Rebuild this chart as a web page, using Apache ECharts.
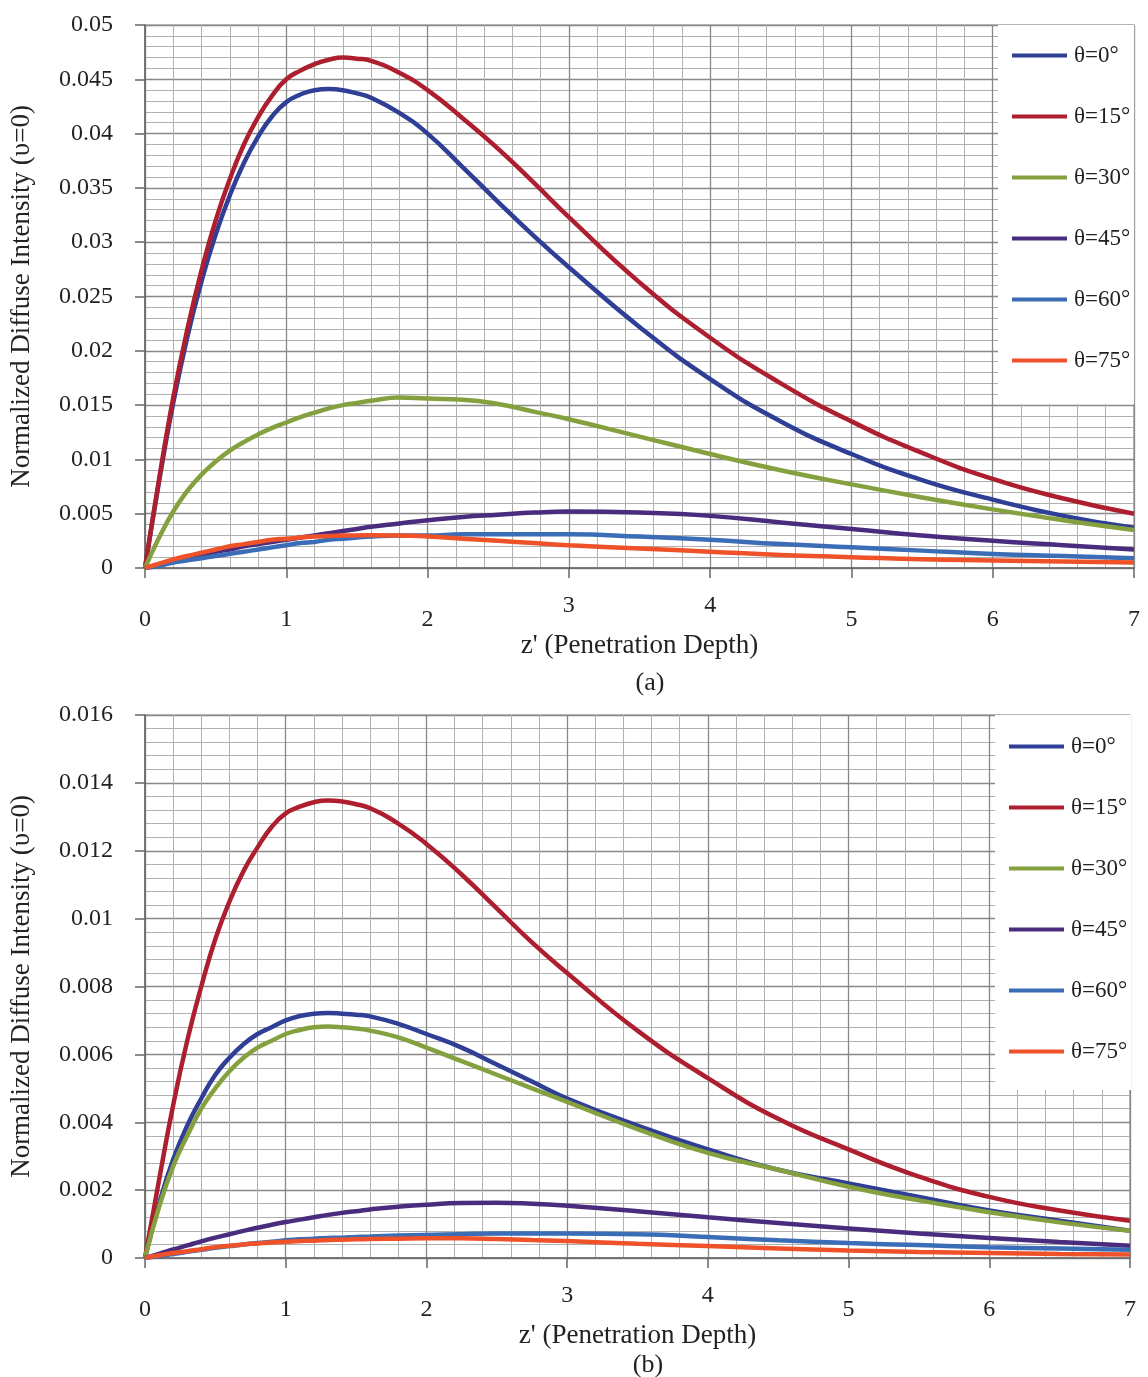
<!DOCTYPE html>
<html>
<head>
<meta charset="utf-8">
<script src="https://cdn.jsdelivr.net/npm/echarts@6/dist/echarts.min.js"></script>
<style>
html,body{margin:0;padding:0;background:#fff;}
#chart{width:1148px;height:1377px;}
</style>
</head>
<body>
<div id="chart"></div>
<script>
// ---------- DATA ----------
var xs = [0, 0.1, 0.2, 0.3, 0.4, 0.5, 0.6, 0.7, 0.8, 0.9, 1.0, 1.1, 1.2, 1.3, 1.4, 1.5, 1.6, 1.8, 2.0, 2.25, 2.5, 2.75, 3, 3.5, 4, 4.5, 5, 5.5, 6, 6.5, 7];
var seriesNames = ['θ=0°', 'θ=15°', 'θ=30°', 'θ=45°', 'θ=60°', 'θ=75°'];
var xTicks = [0, 1, 2, 3, 4, 5, 6, 7];

// panel (a)
var a_t0  = [0, 0.0080, 0.0152, 0.0213, 0.0264, 0.0307, 0.0343, 0.0373, 0.0397, 0.0416, 0.0429, 0.0436, 0.0440, 0.0441, 0.0440, 0.0437, 0.0433, 0.0419, 0.0400, 0.0369, 0.0337, 0.0306, 0.0277, 0.0222, 0.0174, 0.0135, 0.0105, 0.0081, 0.0063, 0.0048, 0.0037];
var a_t15 = [0, 0.0082, 0.0157, 0.0220, 0.0274, 0.0320, 0.0358, 0.0390, 0.0415, 0.0435, 0.0450, 0.0458, 0.0464, 0.0468, 0.0470, 0.0469, 0.0467, 0.0456, 0.0440, 0.0414, 0.0386, 0.0355, 0.0323, 0.0263, 0.0212, 0.0170, 0.0135, 0.0106, 0.0082, 0.0064, 0.0050];
var a_t30 = [0, 0.0028, 0.0052, 0.0071, 0.0086, 0.0098, 0.0108, 0.0116, 0.0123, 0.0129, 0.0134, 0.0139, 0.0143, 0.0147, 0.0150, 0.0152, 0.0154, 0.0157, 0.0156, 0.0155, 0.0151, 0.0144, 0.0137, 0.0121, 0.0105, 0.0090, 0.0077, 0.0065, 0.0054, 0.0044, 0.0035];
var a_t45 = [0, 0.0003, 0.0006, 0.0009, 0.0012, 0.0015, 0.0017, 0.0020, 0.0022, 0.0024, 0.0026, 0.0028, 0.0030, 0.0032, 0.0034, 0.0036, 0.0038, 0.0041, 0.0044, 0.0047, 0.0049, 0.0051, 0.0052, 0.0051, 0.0048, 0.0042, 0.0036, 0.0030, 0.0025, 0.0021, 0.0017];
var a_t60 = [0, 0.0002, 0.0005, 0.0007, 0.0009, 0.0011, 0.0013, 0.0015, 0.0017, 0.0019, 0.0021, 0.0023, 0.0024, 0.0026, 0.0027, 0.0028, 0.0029, 0.0030, 0.0030, 0.0031, 0.0031, 0.0031, 0.0031, 0.0029, 0.0026, 0.0022, 0.0019, 0.0016, 0.0013, 0.0011, 0.0009];
var a_t75 = [0, 0.0004, 0.0008, 0.0011, 0.0014, 0.0017, 0.0020, 0.0022, 0.0024, 0.0026, 0.0027, 0.0028, 0.0029, 0.00295, 0.0030, 0.0030, 0.00302, 0.0030, 0.0029, 0.0027, 0.0025, 0.0023, 0.0021, 0.0018, 0.0015, 0.0012, 0.0010, 0.0008, 0.0007, 0.0006, 0.0005];

// panel (b)
var b_t0  = [0, 0.0016, 0.0029, 0.0039, 0.0047, 0.0054, 0.0059, 0.0063, 0.0066, 0.0068, 0.0070, 0.00713, 0.0072, 0.00722, 0.0072, 0.00717, 0.00712, 0.0069, 0.0066, 0.0062, 0.0057, 0.0052, 0.0047, 0.0039, 0.0032, 0.0026, 0.0022, 0.0018, 0.0014, 0.0011, 0.0008];
var b_t15 = [0, 0.0023, 0.0045, 0.0064, 0.0080, 0.0094, 0.0105, 0.0114, 0.0121, 0.0127, 0.0131, 0.0133, 0.01343, 0.01348, 0.01345, 0.01337, 0.01325, 0.0128, 0.0122, 0.0113, 0.0103, 0.0093, 0.0084, 0.0067, 0.0053, 0.0041, 0.0032, 0.0024, 0.0018, 0.0014, 0.0011];
var b_t30 = [0, 0.0015, 0.0027, 0.0036, 0.0044, 0.0050, 0.0055, 0.0059, 0.0062, 0.0064, 0.0066, 0.00672, 0.0068, 0.00682, 0.0068, 0.00676, 0.0067, 0.0065, 0.0062, 0.0058, 0.0054, 0.0050, 0.0046, 0.0038, 0.0031, 0.0026, 0.0021, 0.0017, 0.00135, 0.00105, 0.0008];
var b_t45 = [0, 0.00012, 0.00025, 0.00037, 0.00049, 0.0006, 0.0007, 0.0008, 0.00089, 0.00098, 0.00106, 0.00113, 0.0012, 0.00127, 0.00133, 0.00138, 0.00143, 0.00151, 0.00157, 0.00162, 0.00163, 0.0016, 0.00154, 0.00138, 0.0012, 0.00103, 0.00087, 0.00072, 0.00059, 0.00047, 0.00036];
var b_t60 = [0, 0.00006, 0.00012, 0.00018, 0.00024, 0.0003, 0.00035, 0.0004, 0.00044, 0.00048, 0.00052, 0.00055, 0.00057, 0.00059, 0.0006, 0.00062, 0.00063, 0.00066, 0.00068, 0.0007, 0.00072, 0.00072, 0.00072, 0.0007, 0.00062, 0.00052, 0.00044, 0.00038, 0.00032, 0.00028, 0.00024];
var b_t75 = [0, 0.00008, 0.00015, 0.0002, 0.00026, 0.00032, 0.00036, 0.0004, 0.00043, 0.00046, 0.00048, 0.0005, 0.00051, 0.00053, 0.00054, 0.00055, 0.00056, 0.00057, 0.00058, 0.00058, 0.00056, 0.00053, 0.0005, 0.00042, 0.00035, 0.00028, 0.00022, 0.00018, 0.00015, 0.00012, 0.0001];

var panelA = [a_t0, a_t15, a_t30, a_t45, a_t60, a_t75];
var panelB = [b_t0, b_t15, b_t30, b_t45, b_t60, b_t75];

// ---------- STYLE ----------
var colors = ['#2e3f95', '#ad1f2f', '#85a03e', '#4a2c7e', '#3a6db5', '#ef5128'];
var FONT = '"Liberation Serif", "DejaVu Serif", serif';
var TXT = '#222';

function yFmt(v) { return String(parseFloat(v.toFixed(4))); }
function xFmt(v) {
  return (v === 3 || v === 4) ? '{up|' + v + '}' : '{n|' + v + '}';
}

function makeX(gi) {
  return {
    type: 'value', gridIndex: gi, min: 0, max: 7, interval: 1,
    name: "z' (Penetration Depth)", nameLocation: 'middle', nameGap: 58,
    nameTextStyle: { fontFamily: FONT, fontSize: 27, color: TXT },
    axisLine: { show: true, lineStyle: { color: '#666', width: 1.5 } },
    axisTick: { show: true, length: 10, lineStyle: { color: '#666', width: 1.5 } },
    minorTick: { show: false, splitNumber: 5 },
    splitLine: { show: true, lineStyle: { color: '#888', width: 1.3 } },
    minorSplitLine: { show: true, lineStyle: { color: '#b0b0b0', width: 1 } },
    axisLabel: {
      margin: 26, formatter: xFmt,
      rich: {
        n: { fontFamily: FONT, fontSize: 24, color: TXT, padding: [14, 0, 0, 0] },
        up: { fontFamily: FONT, fontSize: 24, color: TXT, padding: [0, 0, 0, 0] }
      }
    }
  };
}
function makeY(gi, max, interval) {
  return {
    type: 'value', gridIndex: gi, min: 0, max: max, interval: interval,
    name: 'Normalized Diffuse Intensity (υ=0)', nameLocation: 'middle', nameGap: 110,
    nameTextStyle: { fontFamily: FONT, fontSize: 27, color: TXT },
    axisLine: { show: true, lineStyle: { color: '#666', width: 1.5 } },
    axisTick: { show: true, length: 10, lineStyle: { color: '#666', width: 1.5 } },
    minorTick: { show: false, splitNumber: 5 },
    splitLine: { show: true, lineStyle: { color: '#888', width: 1.3 } },
    minorSplitLine: { show: true, lineStyle: { color: '#b0b0b0', width: 1 } },
    axisLabel: {
      margin: 32, formatter: yFmt, fontFamily: FONT, fontSize: 24, color: TXT,
      padding: [0, 0, 14, 0]
    }
  };
}

var series = [];
[panelA, panelB].forEach(function (panel, gi) {
  panel.forEach(function (ys, k) {
    series.push({
      type: 'line', name: seriesNames[k], xAxisIndex: gi, yAxisIndex: gi,
      data: xs.map(function (x, i) { return [x, ys[i]]; }),
      smooth: 0.5, showSymbol: false, symbol: 'none',
      lineStyle: { color: colors[k], width: 4.5 },
      itemStyle: { color: colors[k] },
      z: 3 + k
    });
  });
});

function makeLegend(left, top, padding) {
  return {
    orient: 'vertical', left: left, top: top, data: seriesNames,
    icon: 'rect', itemWidth: 55, itemHeight: 4, itemGap: 38,
    backgroundColor: '#ffffff', padding: padding, z: 20,
    selectedMode: false,
    textStyle: { fontFamily: FONT, fontSize: 23, lineHeight: 23, color: TXT, padding: [0, 0, 0, 2] }
  };
}

var option = {
  backgroundColor: '#ffffff',
  animation: false,
  color: colors,
  title: [
    { text: '(a)', left: 645, top: 665, textAlign: 'center', textStyle: { fontFamily: FONT, fontSize: 26, fontWeight: 'normal', color: TXT } },
    { text: '(b)', left: 643, top: 1347, textAlign: 'center', textStyle: { fontFamily: FONT, fontSize: 26, fontWeight: 'normal', color: TXT } }
  ],
  grid: [
    { left: 145, top: 25, width: 989, height: 543, show: true, borderColor: '#888', borderWidth: 1.2, backgroundColor: 'transparent' },
    { left: 142, top: 715, width: 988, height: 543, show: true, borderColor: '#888', borderWidth: 1.2, backgroundColor: 'transparent' }
  ],
  legend: [
    makeLegend(998, 25, [19, 4, 32, 14]),
    makeLegend(995, 715, [20, 4, 27, 14])
  ],
  xAxis: [makeX(0), makeX(1)],
  yAxis: [makeY(0, 0.05, 0.005), makeY(1, 0.016, 0.002)],
  series: series
};

var chart = echarts.init(document.getElementById('chart'), null, { renderer: 'canvas' });
chart.setOption(option);
</script>
</body>
</html>
